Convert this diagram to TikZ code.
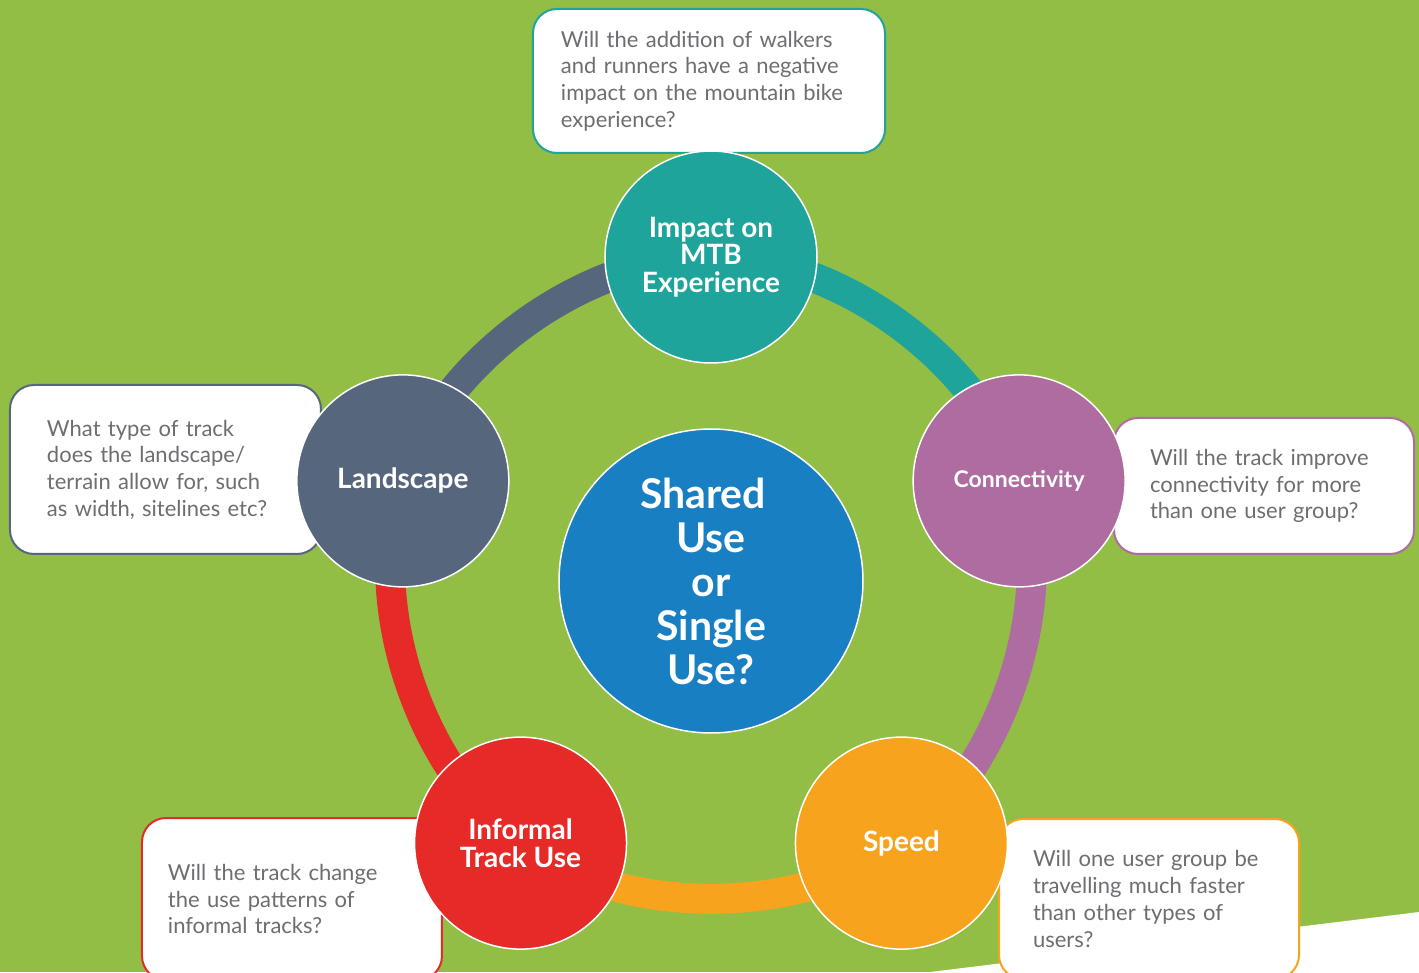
\documentclass[tikz,border=0pt]{standalone}
\usepackage{fontspec}
\setmainfont{Lato}
\usetikzlibrary{backgrounds}
\definecolor{grass}{HTML}{92BE46}
\definecolor{tealc}{HTML}{1EA49A}
\definecolor{slatec}{HTML}{56677D}
\definecolor{purplec}{HTML}{AE6CA0}
\definecolor{orangec}{HTML}{F8A31E}
\definecolor{redc}{HTML}{E52A27}
\definecolor{bluec}{HTML}{187FC3}
\definecolor{textgray}{HTML}{6D6E71}
\begin{document}
\begin{tikzpicture}[
        x=1pt, y=1pt,
        topic/.style={circle, draw=white, line width=1.5pt, minimum size=212pt, inner sep=0pt,
            text=white, align=center, font=\bfseries\fontsize{28}{27.5}\selectfont},
        question/.style={draw, line width=2pt, fill=white, rounded corners=24pt, anchor=north west,
            text=textgray, align=left, font=\fontsize{22}{26.7}\selectfont},
        ring/.style={line width=30pt, bend left=36, looseness=0.85},
    ]
    \useasboundingbox (-711,-391) rectangle (708,581);
    \begin{scope}[on background layer]
        \fill[grass] (-711,-391) rectangle (708,581);
        \fill[white] (219,-391) -- (708,-331) -- (708,-391) -- cycle;
    \end{scope}

    \node[question, draw=tealc, minimum width=352pt, minimum height=144pt, inner xsep=28pt, text width=296pt]
        (qimpact) at (-179,573) {Will the addition of walkers\\and runners have a negative\\impact on the mountain bike\\experience?};
    \node[question, draw=slatec, minimum width=311pt, minimum height=169pt, inner xsep=37pt, text width=237pt]
        (qland) at (-702,197) {What type of track\\does the landscape/\\terrain allow for, such\\as width, sitelines etc?};
    \node[question, draw=purplec, minimum width=300pt, minimum height=136pt, inner xsep=36pt, text width=228pt]
        (qconn) at (402,164) {Will the track improve\\connectivity for more\\than one user group?};
    \node[question, draw=redc, minimum width=300pt, minimum height=162pt, inner xsep=26pt, text width=248pt]
        (qinf) at (-570,-236) {Will the track change\\the use patterns of\\informal tracks?};
    \node[question, draw=orangec, minimum width=300pt, minimum height=160pt, inner xsep=34pt, text width=232pt]
        (qspeed) at (287,-237) {Will one user group be\\travelling much faster\\than other types of\\users?};

    \node[topic, fill=bluec, minimum size=304pt, font=\bfseries\fontsize{41}{44}\selectfont]
        (shared) at (0,0) {Shared\hspace*{16pt}\\Use\hspace*{18pt}\\or\\Single\hspace*{18pt}\\Use?};
    \node[topic, fill=tealc] (impact) at (90:324) {Impact on\\MTB\\Experience};
    \node[topic, fill=slatec] (land) at (162:324) {Landscape};
    \node[topic, fill=purplec, font=\bfseries\fontsize{23}{25}\selectfont] (conn) at (18:324) {Connectivity};
    \node[topic, fill=orangec] (speed) at (306:324) {Speed};
    \node[topic, fill=redc] (inf) at (234:324) {Informal\\Track Use};

    \begin{scope}[on background layer]
        \draw[ring, slatec] (land.center) to (impact.center);
        \draw[ring, tealc] (impact.center) to (conn.center);
        \draw[ring, purplec] (conn.center) to (speed.center);
        \draw[ring, orangec] (speed.center) to (inf.center);
        \draw[ring, redc] (inf.center) to (land.center);
    \end{scope}
\end{tikzpicture}
\end{document}
